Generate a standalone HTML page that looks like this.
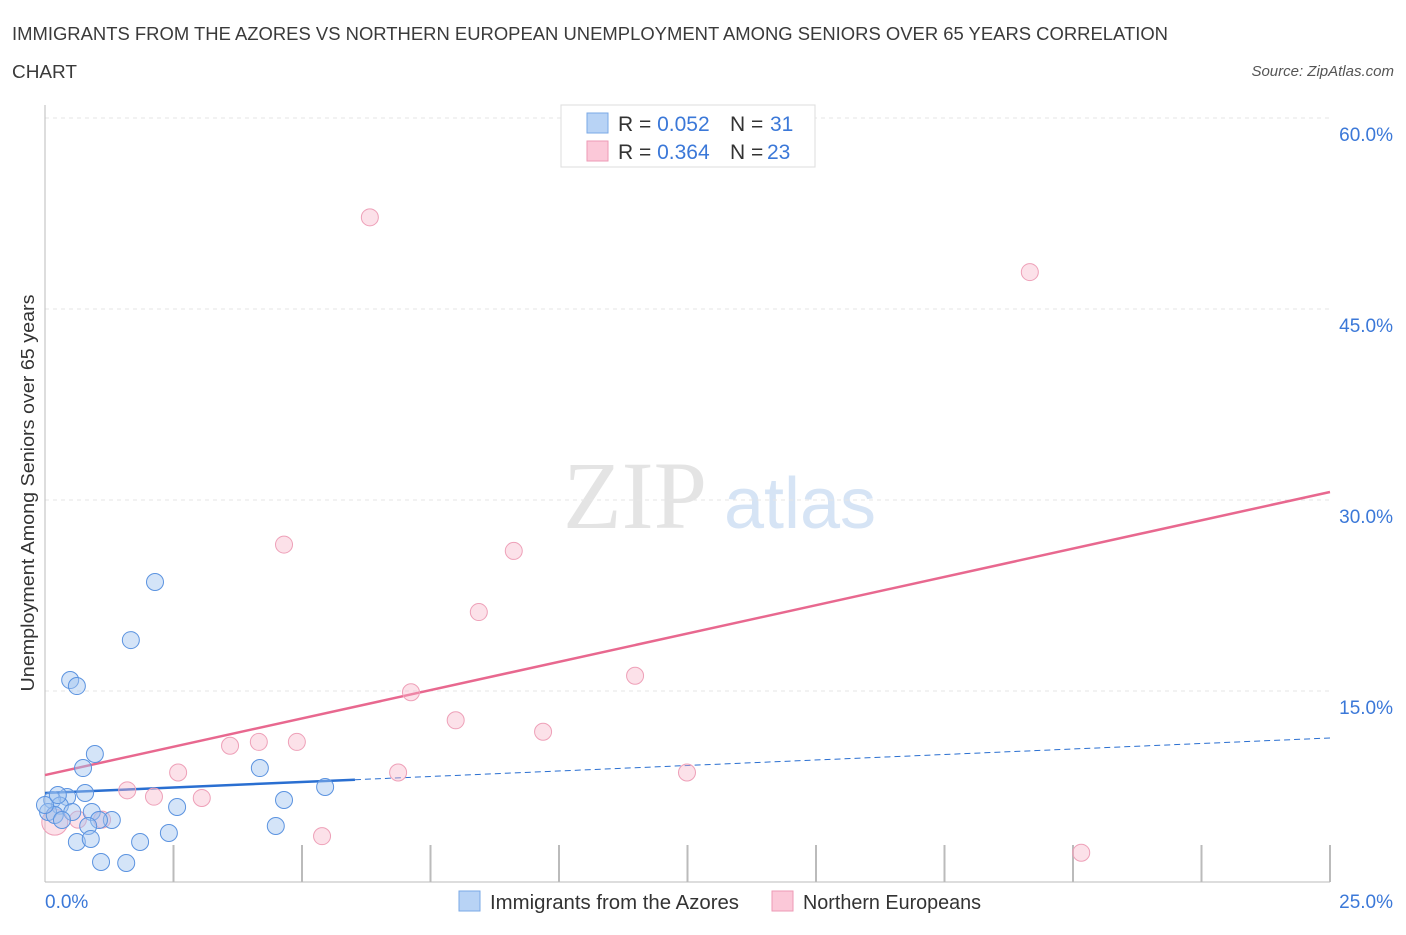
<!DOCTYPE html>
<html><head><meta charset="utf-8"><style>
body{margin:0;background:#fff;font-family:"Liberation Sans",sans-serif}
svg text{font-family:"Liberation Sans",sans-serif}
</style></head><body>
<svg id="c" width="1406" height="930">
<text x="12" y="40" font-size="18" fill="#3a3a3a" textLength="1156" lengthAdjust="spacingAndGlyphs">IMMIGRANTS FROM THE AZORES VS NORTHERN EUROPEAN UNEMPLOYMENT AMONG SENIORS OVER 65 YEARS CORRELATION</text>
<text x="12" y="78" font-size="18" fill="#3a3a3a" textLength="65" lengthAdjust="spacingAndGlyphs">CHART</text>
<text x="1394" y="76" font-size="15" fill="#555" font-style="italic" text-anchor="end">Source: ZipAtlas.com</text>
<text x="635" y="528" font-size="96" fill="#e4e4e4" text-anchor="middle" style="font-family:'Liberation Serif',serif">ZIP</text>
<text x="800" y="528" font-size="72" fill="#d6e4f5" text-anchor="middle">atlas</text>
<g id="grid"></g><g id="axes"></g><g id="trend"></g><g id="pts"></g>
<g>
<rect x="561" y="105" width="254" height="62" fill="#fff" stroke="#ddd"/>
<rect x="587" y="113" width="21" height="20" fill="#b8d3f5" stroke="#7aa8e6"/>
<rect x="587" y="141" width="21" height="20" fill="#fbc8d8" stroke="#ee9ab6"/>
<text x="618" y="131" font-size="21" fill="#333">R = <tspan fill="#3b78d8">0.052</tspan><tspan x="730">N = </tspan><tspan x="770" fill="#3b78d8">31</tspan></text>
<text x="618" y="159" font-size="21" fill="#333">R = <tspan fill="#3b78d8">0.364</tspan><tspan x="730">N = </tspan><tspan x="767" fill="#3b78d8">23</tspan></text>
</g>
<g>
<rect x="459" y="891" width="21" height="20" fill="#b8d3f5" stroke="#7aa8e6"/>
<text x="490" y="909" font-size="20" fill="#333" textLength="249" lengthAdjust="spacingAndGlyphs">Immigrants from the Azores</text>
<rect x="772" y="891" width="21" height="20" fill="#fbc8d8" stroke="#ee9ab6"/>
<text x="803" y="909" font-size="20" fill="#333" textLength="178" lengthAdjust="spacingAndGlyphs">Northern Europeans</text>
</g>
<text x="34" y="493" font-size="18" fill="#333" text-anchor="middle" textLength="397" lengthAdjust="spacingAndGlyphs" transform="rotate(-90 34 493)">Unemployment Among Seniors over 65 years</text>
</svg>
<script>
const yTicks=[15,30,45,60];
const yTickLabels=["15.0%","30.0%","45.0%","60.0%"];
const xTicks=[0,2.5,5,7.5,10,12.5,15,17.5,20,22.5,25];
const blueX=[2.14,1.67,0.49,0.62,0.97,0.74,4.18,0.78,5.45,4.65,2.57,0.43,0.14,0.29,0.91,0.53,1.30,1.05,4.49,2.41,0.84,0.62,0.89,1.85,1.09,1.58,0.06,0.19,0.33,0.0,0.25];
const blueY=[23.56,19.0,15.86,15.39,10.05,8.95,8.95,6.99,7.46,6.44,5.89,6.68,6.44,6.0,5.5,5.5,4.87,4.87,4.4,3.85,4.4,3.14,3.38,3.14,1.57,1.49,5.5,5.26,4.87,6.05,6.83];
const pinkX=[6.32,19.16,4.65,9.12,8.44,11.48,7.12,7.99,9.69,3.60,4.16,4.90,2.59,6.87,12.49,1.60,2.12,3.05,5.39,20.16,0.19,0.64,1.11];
const pinkY=[52.2,47.9,26.5,26.0,21.2,16.2,14.9,12.7,11.8,10.7,11.0,11.0,8.6,8.6,8.6,7.2,6.7,6.6,3.6,2.3,4.7,4.9,4.9];
const blueTrend=[6.99,11.31];
const pinkTrend=[8.40,30.63];
const X=v=>45+v/25*1285, Y=v=>882-v/60*764;
const NS="http://www.w3.org/2000/svg";
function mk(t,a,p){const e=document.createElementNS(NS,t);for(const k in a)e.setAttribute(k,a[k]);p.appendChild(e);return e;}
const grid=document.getElementById('grid'),axes=document.getElementById('axes'),trend=document.getElementById('trend'),pts=document.getElementById('pts');
yTicks.forEach((t,i)=>{
 const l=mk('line',{x1:45,x2:1330,y1:Y(t),y2:Y(t),stroke:'#e6e6e6','stroke-dasharray':'4 4'},grid);
 
 
 const tx=mk('text',{x:1393,y:Y(t)+23,'font-size':19,fill:'#3b78d8','text-anchor':'end'},axes);
 tx.textContent=yTickLabels[i];
 
 
});
const ax=mk('line',{x1:45,x2:45,y1:105,y2:882,stroke:'#bbb'},axes);


const bx=mk('line',{x1:45,x2:1330,y1:882,y2:882,stroke:'#bbb'},axes);


xTicks.forEach(t=>{const l=mk('line',{x1:X(t),x2:X(t),y1:882,y2:t==0?882:845,stroke:'#bbb','stroke-width':2},axes);
 
 });
[[0,'0.0%','start',45],[25,'25.0%','end',1393]].forEach(a=>{const t=mk('text',{x:a[3],y:908,'font-size':19,fill:'#3b78d8','text-anchor':a[2]},axes);t.textContent=a[1];
 
 });
const bY=v=>blueTrend[0]+(blueTrend[1]-blueTrend[0])*v/25;
let e=mk('line',{x1:X(0),y1:Y(bY(0)),x2:X(6.03),y2:Y(bY(6.03)),stroke:'#2a6fd1','stroke-width':2.5},trend);


e=mk('line',{x1:X(6.03),y1:Y(bY(6.03)),x2:X(25),y2:Y(bY(25)),stroke:'#2a6fd1','stroke-width':1,'stroke-dasharray':'6 4'},trend);


e=mk('line',{x1:X(0),y1:Y(pinkTrend[0]),x2:X(25),y2:Y(pinkTrend[1]),stroke:'#e8688f','stroke-width':2.5},trend);


pinkX.forEach((v,i)=>{const c=mk('circle',{cx:X(v),cy:Y(pinkY[i]),r:i==20?13:8.5,fill:'rgba(248,180,200,0.4)',stroke:'#eea0b8','stroke-width':1},pts);
 
 });
blueX.forEach((v,i)=>{const c=mk('circle',{cx:X(v),cy:Y(blueY[i]),r:8.5,fill:'rgba(160,195,240,0.45)',stroke:'#5b93e0','stroke-width':1},pts);
 
 });
</script>
</body></html>
